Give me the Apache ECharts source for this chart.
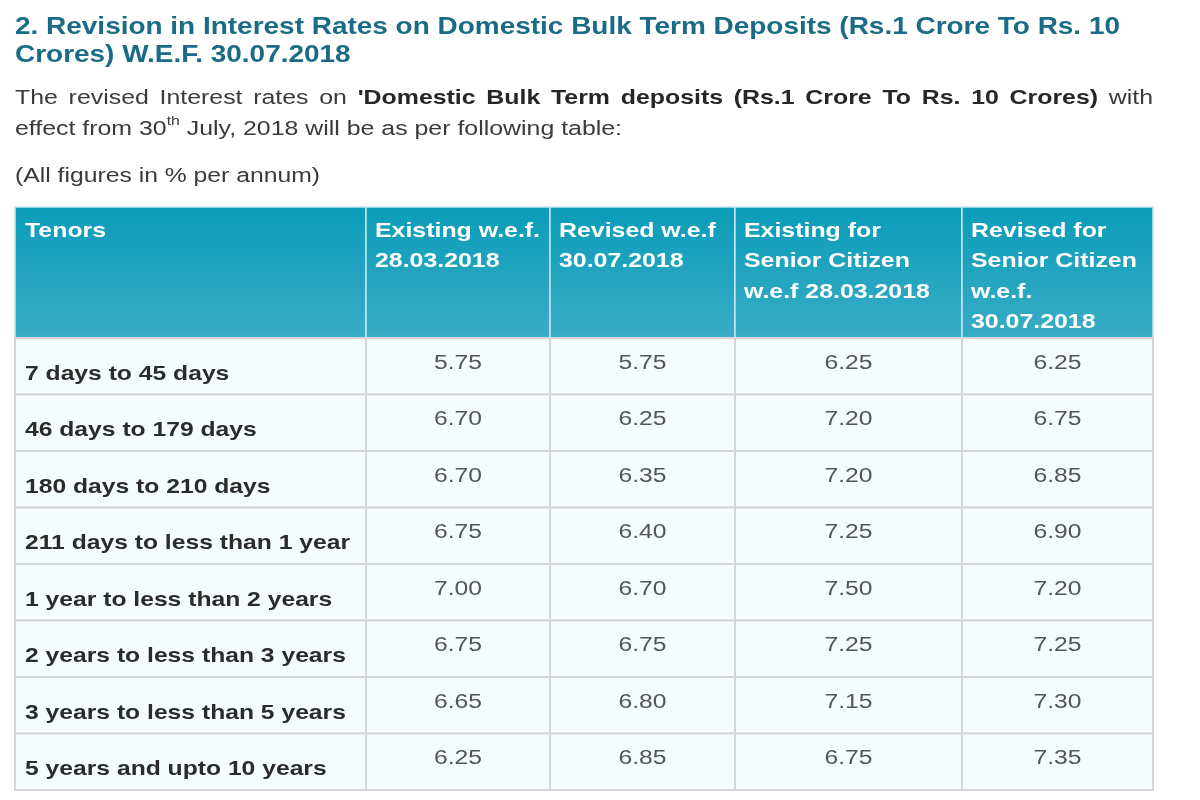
<!DOCTYPE html>
<html>
<head>
<meta charset="utf-8">
<script src="https://cdn.jsdelivr.net/npm/echarts@6/dist/echarts.min.js"></script>
<style>
  html, body { margin: 0; padding: 0; background: #fff; }
  #main { width: 1200px; height: 800px; }
</style>
</head>
<body>
<div id="main"></div>
<script>
// table data
const tenors = [
  '7 days to 45 days',
  '46 days to 179 days',
  '180 days to 210 days',
  '211 days to less than 1 year',
  '1 year to less than 2 years',
  '2 years to less than 3 years',
  '3 years to less than 5 years',
  '5 years and upto 10 years'
];
const headers = [
  ['Tenors'],
  ['Existing w.e.f.', '28.03.2018'],
  ['Revised w.e.f', '30.07.2018'],
  ['Existing for', 'Senior Citizen', 'w.e.f 28.03.2018'],
  ['Revised for', 'Senior Citizen', 'w.e.f.', '30.07.2018']
];
const existing = [5.75, 6.70, 6.70, 6.75, 7.00, 6.75, 6.65, 6.25];
const revised = [5.75, 6.25, 6.35, 6.40, 6.70, 6.75, 6.80, 6.85];
const existingSenior = [6.25, 7.20, 7.20, 7.25, 7.50, 7.25, 7.15, 6.75];
const revisedSenior = [6.25, 6.75, 6.85, 6.90, 7.20, 7.25, 7.30, 7.35];
const rateColumns = [existing, revised, existingSenior, revisedSenior];

const titleLines = [
  '2. Revision in Interest Rates on Domestic Bulk Term Deposits (Rs.1 Crore To Rs. 10',
  'Crores) W.E.F. 30.07.2018'
];
const note = '(All figures in % per annum)';

// layout
const FONT = '"Liberation Sans", Arial, sans-serif';
const tableLeft = 15, tableW = 1138;
const colEdges = [0, 351, 535, 720, 947, 1138];

const ctx = document.createElement('canvas').getContext('2d');
function textW(s, size, weight) {
  ctx.font = (weight || 'normal') + ' ' + size + 'px ' + FONT;
  return ctx.measureText(s).width;
}
function txt(x, y, s, size, weight, color, sx, align) {
  return {
    type: 'text', x: x, y: y, scaleX: sx, silent: true,
    style: {
      text: s, fontSize: size, fontWeight: weight, fontFamily: FONT,
      fill: color, align: align || 'left', verticalAlign: 'middle'
    }
  };
}

// font sizes, then a horizontal stretch to match the screenshot widths
const titleSize = 24, paraSize = 20.5, noteSize = 19.5, headSize = 20.5, labelSize = 20.5, valSize = 20;
const titleSx = 1105 / textW(titleLines[0], titleSize, 'bold');
const headSx = 165 / textW('Existing w.e.f.', headSize, 'bold');
const labelSx = 325 / textW('211 days to less than 1 year', labelSize, 'bold');
const valSx = 48 / textW('5.75', valSize, 'normal');

const elements = [];
elements.push(txt(15, 27, titleLines[0], titleSize, 'bold', '#1a6c86', titleSx));
elements.push(txt(15, 55, titleLines[1], titleSize, 'bold', '#1a6c86', titleSx));

// paragraph line 1, justified
const supSize = 13;
const l2a = 'effect from 30', l2sup = 'th', l2b = ' July, 2018 will be as per following table:';
const paraSx = 607 / (textW(l2a, paraSize) + textW(l2sup, supSize) + textW(l2b, paraSize));
const words = [];
'The revised Interest rates on'.split(' ').forEach(w => words.push([w, 'normal']));
"'Domestic Bulk Term deposits (Rs.1 Crore To Rs. 10 Crores)".split(' ').forEach(w => words.push([w, 'bold']));
words.push(['with', 'normal']);
let wordsW = 0;
words.forEach(w => { w.push(textW(w[0], paraSize, w[1]) * paraSx); wordsW += w[2]; });
const gap = (tableW - wordsW) / (words.length - 1);
let px = tableLeft;
words.forEach(w => {
  elements.push(txt(px, 98, w[0], paraSize, w[1], w[1] === 'bold' ? '#262626' : '#3a3a3a', paraSx));
  px += w[2] + gap;
});
// paragraph line 2 with superscript
let qx = tableLeft;
elements.push(txt(qx, 129, l2a, paraSize, 'normal', '#3a3a3a', paraSx));
qx += textW(l2a, paraSize) * paraSx;
elements.push(txt(qx, 121, l2sup, supSize, 'normal', '#3a3a3a', paraSx));
qx += textW(l2sup, supSize) * paraSx;
elements.push(txt(qx, 129, l2b, paraSize, 'normal', '#3a3a3a', paraSx));

const noteSx = 305 / textW(note, noteSize);
elements.push(txt(15, 177, note, noteSize, 'normal', '#3a3a3a', noteSx));

const headFill = {
  type: 'linear', x: 0, y: 0, x2: 0, y2: 1,
  colorStops: [{ offset: 0, color: '#0a9cb9' }, { offset: 1, color: '#3aacc6' }]
};

function cellBox(api, c, r) {
  const p0 = api.coord([colEdges[c], r]);
  const p1 = api.coord([colEdges[c + 1], r]);
  const h = api.size([0, 1])[1];
  return { x: p0[0], y: p0[1] - h / 2, w: p1[0] - p0[0], h: h };
}

const headData = headers.map((h, c) => [c, 0]);
const bodyData = [];
tenors.forEach((t, r) => {
  for (let c = 0; c < 5; c++) bodyData.push([c, r]);
});

const chart = echarts.init(document.getElementById('main'));
chart.setOption({
  animation: false,
  backgroundColor: '#fff',
  graphic: { elements: elements },
  grid: [
    { left: tableLeft, top: 207, width: tableW, height: 131 },
    { left: tableLeft, top: 338, width: tableW, height: 452 }
  ],
  xAxis: [
    { gridIndex: 0, type: 'value', min: 0, max: tableW, show: false },
    { gridIndex: 1, type: 'value', min: 0, max: tableW, show: false }
  ],
  yAxis: [
    { gridIndex: 0, type: 'category', data: ['header'], show: false },
    { gridIndex: 1, type: 'category', data: tenors, inverse: true, show: false }
  ],
  series: [
    {
      type: 'custom',
      xAxisIndex: 0, yAxisIndex: 0,
      data: headData,
      renderItem: function (params, api) {
        const c = api.value(0);
        const b = cellBox(api, c, 0);
        const children = [{
          type: 'rect',
          shape: { x: b.x, y: b.y, width: b.w, height: b.h },
          style: { fill: headFill, stroke: '#c9e4eb', lineWidth: 1.5 }
        }];
        headers[c].forEach((line, i) => {
          children.push(txt(b.x + (c === 0 ? 10 : 9), b.y + 24 + i * 30.5, line, headSize, 'bold', '#ffffff', headSx));
        });
        return { type: 'group', children: children };
      }
    },
    {
      type: 'custom',
      xAxisIndex: 1, yAxisIndex: 1,
      data: bodyData,
      renderItem: function (params, api) {
        const c = api.value(0), r = api.value(1);
        const b = cellBox(api, c, r);
        const children = [{
          type: 'rect',
          shape: { x: b.x, y: b.y, width: b.w, height: b.h },
          style: { fill: '#f5fcfe', stroke: '#d6d6d6', lineWidth: 2 }
        }];
        if (c === 0) {
          children.push(txt(b.x + 10, b.y + 36, tenors[r], labelSize, 'bold', '#2b2b2b', labelSx));
        } else {
          children.push(txt(b.x + b.w / 2, b.y + 25, rateColumns[c - 1][r].toFixed(2), valSize, 'normal', '#555555', valSx, 'center'));
        }
        return { type: 'group', children: children };
      }
    }
  ]
});
</script>
</body>
</html>
